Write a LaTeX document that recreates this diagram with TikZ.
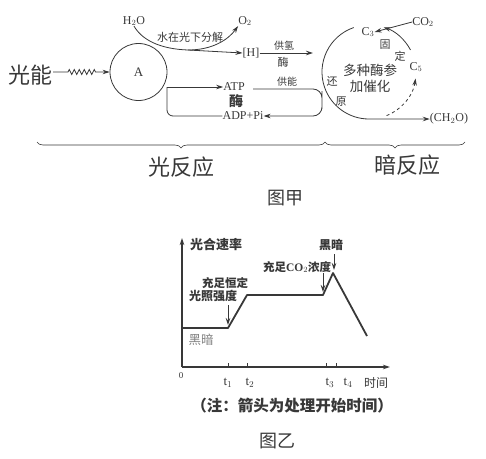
\documentclass[tikz,border=0pt]{standalone}
\usepackage{fontspec}
\usepackage{tikz}
\usetikzlibrary{calc}
\usetikzlibrary{arrows.meta}
\usetikzlibrary{decorations.pathmorphing}
\usetikzlibrary{decorations.pathreplacing}
\setmainfont{Liberation Serif}
\newfontfamily\cjk{Noto Sans CJK SC}
\definecolor{inkgray}{gray}{0.22}
\tikzstyle{ink} = [draw=inkgray, line width=0.8pt]
\tikzstyle{arr} = [ink, -{Stealth[length=7pt,width=4.5pt]}]
\tikzstyle{hanzi} = [text=inkgray, inner sep=0pt, font=\cjk\fontsize{11}{11}\selectfont]
\tikzstyle{latin} = [text=inkgray, inner sep=0pt, font=\fontsize{12}{12}\selectfont]
\tikzstyle{bigtitle} = [text=inkgray, inner sep=0pt, font=\cjk\fontsize{22}{22}\selectfont]
\tikzstyle{figtitle} = [text=inkgray, inner sep=0pt, font=\cjk\fontsize{18}{18}\selectfont]

\begin{document}
\begin{tikzpicture}[x=1pt, y=-1pt]
    \useasboundingbox (0,0) rectangle (486,458);
    % 图甲
    \node[bigtitle] (light) at (31,75) {光能};
    \node[circle, ink, minimum size=57pt, latin, font=\fontsize{13}{13}\selectfont] (A) at (138.5,72) {A};
    \coordinate (z1) at (68,72);
    \coordinate (z2) at (96,72);
    \draw[arr] (light.east |- z1) -- (z1)
        decorate[decoration={zigzag, amplitude=2.5pt, segment length=5pt}] {-- (z2)} -- (A.west);

    \node[latin] (h2o) at (134,21) {H$_2$O};
    \node[latin] (o2) at (245,21) {O$_2$};
    \node[latin] (hyd) at (251,53) {[H]};
    \coordinate (split) at (188,50);
    \draw[ink] (h2o.south) .. controls (142,40) and (160,49) .. (split);
    \draw[arr] (split) .. controls (212,50) and (228,40) .. (o2.south west);
    \draw[arr] (split) -- (hyd.west);
    \node[hanzi] (photolysis) at (190,37) {水在光下分解};

    \coordinate (hend) at (313,53);
    \draw[arr] (hyd.east) -- (hend);
    \node[hanzi, font=\cjk\fontsize{10}{10}\selectfont] (supplyH) at (284,46) {供氢};
    \node[hanzi] (enzH) at (283,62) {酶};

    \coordinate (jA) at (167,87);
    \node[latin] (atp) at (234,87) {ATP};
    \node[hanzi, font=\cjk\bfseries\fontsize{14}{14}\selectfont] (enzATP) at (236,101) {酶};
    \node[latin] (adp) at (243,116) {ADP+Pi};
    \draw[arr] (jA) -- (atp.west);
    \draw[ink, rounded corners=6pt] (adp.west) -| (jA);

    \coordinate (gn) at (253,89);
    \coordinate (bend) at (322,100);
    \draw[arr, rounded corners=9pt] (gn) -| (bend) |- (adp.east);
    \node[hanzi, font=\cjk\fontsize{10}{10}\selectfont] (supplyE) at (287,82) {供能};

    \coordinate (dk) at (369,72);
    \node[latin] (c3) at (368,32) {C$_3$};
    \node[latin] (co2) at (423,22) {CO$_2$};
    \node[latin] (c5) at (416,67) {C$_5$};
    \node[latin] (ch2o) at (449,119) {(CH$_2$O)};
    \draw[arr] (co2.west) -- (c3.east);
    \draw[arr] ($(dk)+(-28:47)$) arc[start angle=-28, end angle=-72, radius=47];
    \draw[arr, dashed] ($(dk)+(68:47)$) arc[start angle=68, end angle=8, radius=47];
    \draw[arr] ($(dk)+(251:47)$) arc[start angle=251, end angle=90, radius=47] -- (ch2o.west);
    \node[hanzi] (fix1) at (385,45) {固};
    \node[hanzi] (fix2) at (400,56) {定};
    \node[hanzi] (red1) at (332,81) {还};
    \node[hanzi] (red2) at (341,102) {原};
    \node[hanzi, font=\cjk\fontsize{13.5}{13.5}\selectfont] (cat1) at (370,70) {多种酶参};
    \node[hanzi, font=\cjk\fontsize{13.5}{13.5}\selectfont] (cat2) at (370,86) {加催化};

    \coordinate (b1) at (37,142);
    \coordinate (b2) at (325,142);
    \coordinate (b3) at (465,142);
    \draw[ink, line width=0.6pt, decorate, decoration={brace, mirror, amplitude=6pt}] (b1) -- (b2);
    \draw[ink, line width=0.6pt, decorate, decoration={brace, mirror, amplitude=6pt}] (b2) -- (b3);
    \node[bigtitle] (lightR) at (181,167) {光反应};
    \node[bigtitle] (darkR) at (407,165) {暗反应};
    \node[figtitle] (figA) at (285,198) {图甲};

    % 图乙
    \coordinate (O) at (182,367);
    \coordinate (ytop) at (182,238);
    \coordinate (xend) at (390,367);
    \draw[arr, line width=1.3pt] (O) -- (ytop);
    \draw[arr, line width=1.3pt] (O) -- (xend);
    \node[latin, font=\fontsize{9}{9}\selectfont] (zero) at (181,376) {0};
    \foreach \tx/\tn in {228/1,247/2,326/3,336/4} {
        \coordinate (tk\tn) at (\tx,367);
        \draw[ink] (tk\tn) -- ++(0,-4);
    }
    \node[latin, font=\fontsize{13}{13}\selectfont] (lt1) at (228,383) {t$_1$};
    \node[latin, font=\fontsize{13}{13}\selectfont] (lt2) at (250,383) {t$_2$};
    \node[latin, font=\fontsize{13}{13}\selectfont] (lt3) at (330,383) {t$_3$};
    \node[latin, font=\fontsize{13}{13}\selectfont] (lt4) at (348,383) {t$_4$};
    \node[hanzi, font=\cjk\fontsize{12}{12}\selectfont] (time) at (376,383) {时间};

    \coordinate (p0) at (182,328);
    \coordinate (p1) at (228,328);
    \coordinate (p2) at (247,295);
    \coordinate (p3) at (323,295);
    \coordinate (p4) at (333,273);
    \coordinate (p5) at (367,336);
    \draw[ink, line width=1.8pt, line join=round] (p0) -- (p1) -- (p2) -- (p3) -- (p4) -- (p5);

    \coordinate (a1) at (228,305);
    \coordinate (a1e) at (228,325);
    \coordinate (a3) at (323,273);
    \coordinate (a3e) at (323,292);
    \coordinate (a4) at (334,254);
    \coordinate (a4e) at (334,270);
    \draw[arr] (a1) -- (a1e);
    \draw[arr] (a3) -- (a3e);
    \draw[arr] (a4) -- (a4e);

    \node[hanzi, font=\cjk\bfseries\fontsize{13}{13}\selectfont] (rate) at (216,245) {光合速率};
    \node[hanzi, font=\cjk\bfseries\fontsize{11.5}{11.5}\selectfont] (strong1) at (225,283) {充足恒定};
    \node[hanzi, font=\cjk\bfseries\fontsize{12}{12}\selectfont] (strong2) at (213,296) {光照强度};
    \node[hanzi, font=\cjk\bfseries\fontsize{11.5}{11.5}\selectfont] (enough) at (297,267) {充足{\rmfamily CO$_2$}浓度};
    \node[hanzi, font=\cjk\bfseries\fontsize{12}{12}\selectfont] (dark1) at (331,245) {黑暗};
    \node[hanzi, text=gray, font=\cjk\fontsize{12.5}{12.5}\selectfont] (dark0) at (201,340) {黑暗};
    \node[hanzi, font=\cjk\bfseries\fontsize{15.5}{15.5}\selectfont] (note) at (292,406) {（注：箭头为处理开始时间）};
    \node[figtitle] (figB) at (277,441) {图乙};
\end{tikzpicture}
\end{document}
